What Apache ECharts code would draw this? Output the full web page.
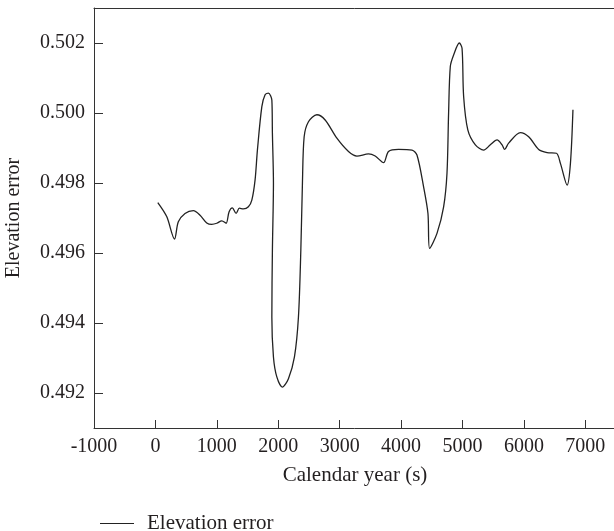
<!DOCTYPE html>
<html><head><meta charset="utf-8">
<script src="https://cdn.jsdelivr.net/npm/echarts@6/dist/echarts.min.js"></script>
<style>html,body{margin:0;padding:0;background:#fff}#c{width:614px;height:531px}</style>
</head><body><div id="c"></div>
<script>
var seriesName = 'Elevation error';
var xName = 'Calendar year (s)';
var yName = 'Elevation error';
var years = [39,184,311,373,482,618,727,836,918,999,1081,1151,1200,1253,1314,1368,1433,1514,1570,1623,1661,1733,1786,1840,1896,1905,1922,1905,1896,1922,1977,2068,2166,2264,2329,2368,2394,2422,2492,2629,2764,2955,3144,3281,3470,3579,3715,3796,3959,4178,4259,4367,4438,4465,4585,4693,4748,4774,4802,4856,4949,4993,5019,5087,5210,5345,5454,5563,5645,5687,5752,5943,6078,6241,6378,6530,6595,6704,6758,6799];
var errors = [0.49744,0.49704,0.49640,0.49689,0.49713,0.49721,0.49708,0.49686,0.49682,0.49685,0.49692,0.49685,0.49718,0.49729,0.49713,0.49728,0.49726,0.49732,0.49751,0.49809,0.49894,0.50018,0.50052,0.50057,0.50037,0.49942,0.49799,0.49608,0.49417,0.49303,0.49246,0.49217,0.49241,0.49303,0.49417,0.49608,0.49799,0.49932,0.49975,0.49995,0.49980,0.49928,0.49890,0.49877,0.49883,0.49877,0.49858,0.49890,0.49896,0.49894,0.49880,0.49789,0.49713,0.49613,0.49656,0.49732,0.49828,0.49999,0.50133,0.50166,0.50200,0.50185,0.50047,0.49952,0.49909,0.49894,0.49909,0.49923,0.49909,0.49896,0.49914,0.49944,0.49932,0.49896,0.49887,0.49885,0.49856,0.49794,0.49856,0.50009];
var xTicks = [-1000,0,1000,2000,3000,4000,5000,6000,7000];
var yTicks = [0.492,0.494,0.496,0.498,0.500,0.502];

var data = years.map(function(x,i){return [x, errors[i]];});
var font = '"Liberation Serif", "DejaVu Serif", serif';
var txt = '#231f20';
var axisCol = '#333';
var chart = echarts.init(document.getElementById('c'), null, {renderer:'canvas'});
chart.setOption({
  animation:false,
  backgroundColor:'#fff',
  grid:{left:94, top:8, width:522, height:420, show:false, containLabel:false, outerBoundsMode:'none'},
  xAxis:[{
    type:'value', min:-1000, max:7500, interval:1000, position:'bottom',
    name:xName, nameLocation:'middle', nameGap:37,
    nameTextStyle:{fontFamily:font, fontSize:21, color:txt},
    axisLine:{show:true, onZero:false, lineStyle:{color:axisCol, width:1}},
    axisTick:{show:true, inside:true, length:8, lineStyle:{color:axisCol}},
    axisLabel:{fontFamily:font, fontSize:20, color:txt, margin:9, showMaxLabel:false,
      formatter:function(v){return xTicks.indexOf(v)>=0 ? String(v) : '';}},
    splitLine:{show:false}
  },{
    type:'value', min:-1000, max:7500, interval:1000, position:'top',
    axisLine:{show:true, onZero:false, lineStyle:{color:axisCol, width:1}},
    axisTick:{show:false}, axisLabel:{show:false}, splitLine:{show:false}
  }],
  yAxis:{
    type:'value', min:0.491, max:0.503,
    name:yName, nameLocation:'middle', nameGap:70,
    nameTextStyle:{fontFamily:font, fontSize:20, color:txt},
    axisLine:{show:true, onZero:false, lineStyle:{color:axisCol, width:1}},
    axisTick:{show:true, inside:true, length:9, lineStyle:{color:axisCol}},
    axisLabel:{fontFamily:font, fontSize:20, color:txt, margin:9, showMinLabel:false, showMaxLabel:false,
      formatter:function(v){
        for (var i=0;i<yTicks.length;i++){ if (Math.abs(v-yTicks[i])<1e-9) return yTicks[i].toFixed(3);} return '';
      }},
    splitLine:{show:false}
  },
  legend:{
    show:true, left:95, top:508, orient:'horizontal',
    itemWidth:34, itemHeight:1,
    icon:'rect',
    itemStyle:{color:'#222'},
    textStyle:{fontFamily:font, fontSize:21, color:txt, padding:[0,0,0,8]},
    data:[seriesName]
  },
  series:[{
    name:seriesName, type:'line', data:data, showSymbol:false, symbol:'none',
    xAxisIndex:0,
    smooth:0.3,
    lineStyle:{color:'#222', width:1.3},
    itemStyle:{color:'#222'}
  }]
});
</script></body></html>
